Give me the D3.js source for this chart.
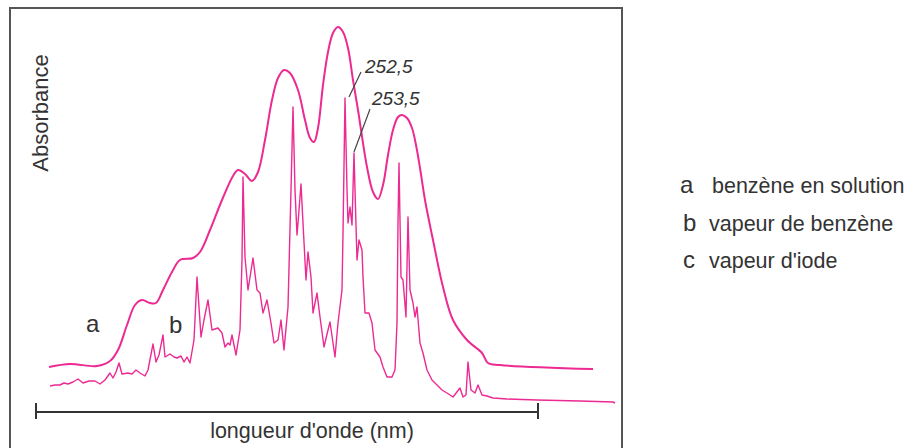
<!DOCTYPE html>
<html>
<head>
<meta charset="utf-8">
<script src="https://cdn.jsdelivr.net/npm/d3@7"></script>
<style>
  body { margin: 0; background: #fff; }
  svg { display: block; font-family: "Liberation Sans", Arial, sans-serif; }
</style>
</head>
<body>
<script>
// spectre a : benzène en solution  [x (u.a.), absorbance (u.a.)]
const solution = [
  [6.5, 21.5], [17, 23], [30.5, 22], [37, 24.5], [41, 30], [45.5, 42.5], [49.5, 52.5],
  [53, 55], [57, 53.5], [60, 53.5], [63.5, 60], [68, 69], [72, 75], [78.5, 76], [82, 79],
  [87, 90], [93, 105], [98.5, 117], [101, 120], [104.5, 118], [108, 114.5], [111, 119],
  [114.5, 135], [118, 155], [121, 166], [124, 170], [127, 168.5], [131, 160], [134.5, 145],
  [137, 136], [139, 134], [141, 141], [143.5, 162.5], [146, 179], [148.5, 188.5], [151, 191.5],
  [153.5, 189], [156, 181], [158.5, 165], [161, 150], [165.5, 121.5], [168.5, 109], [171, 105.5],
  [173.5, 112.5], [176, 127.5], [178.5, 140], [181, 146.5], [183, 147.5], [185.5, 146],
  [188, 141], [190, 132.5], [192, 121], [194.5, 105], [198.5, 85], [203.5, 61.5], [208.5, 45],
  [215.5, 35], [223, 28.5], [226, 23.5], [232, 22.5], [278.5, 20.5]
]

// spectre b : vapeur de benzène
const vapeur = [
  [7, 12], [9.5, 12.5], [12, 12.5], [14, 13.5], [16, 13], [18.5, 14], [21, 15.5], [23.5, 13.5],
  [26.5, 14.5], [29.5, 14.5], [32, 13], [34.5, 15], [37, 18.5], [38.5, 16], [40, 19], [41.5, 23.5],
  [43, 18], [46, 18.5], [48, 18], [50, 20], [52, 18.5], [54.5, 17], [56, 20], [58.5, 33], [60, 24],
  [61.5, 27.5], [63.5, 37.5], [64.5, 26.5], [67, 28], [69, 26.5], [70.5, 26], [72.5, 27], [74, 24],
  [75.5, 26.5], [77, 23.5], [79, 35], [80.5, 66.5], [82.5, 36.5], [84, 45], [86, 55], [88, 40],
  [91, 41], [93, 38.5], [94.5, 31.5], [96, 33.5], [97, 32.5], [98, 37.5], [100, 27.5], [102, 40],
  [103, 75], [103.5, 116.5], [104.5, 76.5], [106, 60], [108.5, 76], [110.5, 60], [112, 58.5],
  [113.5, 48.5], [115.5, 55], [117.5, 43.5], [119, 33.5], [121, 35], [122.5, 45], [124, 30],
  [126, 51.5], [127.5, 110], [128.5, 151.5], [129.5, 110], [130.5, 87.5], [131, 93.5], [132.5, 113],
  [133.5, 93.5], [135, 65], [136, 79], [137.5, 66.5], [138.5, 48.5], [140.5, 58.5], [142, 46.5],
  [144, 31.5], [146, 40], [147, 44], [149.5, 26.5], [151, 43.5], [153, 60], [153.5, 88.5],
  [154.5, 156], [155.5, 110], [156, 93.5], [157, 101.5], [158, 92.5], [159, 128.5], [159.5, 110],
  [160.5, 75], [161.5, 85], [163, 80], [163.5, 66.5], [164.5, 48.5], [166.5, 48.5], [168, 43.5],
  [169.5, 30], [172, 26.5], [173.5, 21.5], [175.5, 16.5], [178, 16.5], [179.5, 20], [180.5, 43.5],
  [181, 93.5], [181.5, 123.5], [182.5, 66.5], [183.5, 65], [185, 46.5], [186, 96.5], [187, 60],
  [188.5, 53.5], [189.5, 46.5], [190.5, 51.5], [192, 33.5], [193.5, 28.5], [195.5, 20], [198, 15],
  [200.5, 12.5], [203, 10], [205.5, 8.5], [208.5, 6.5], [212, 11], [213.5, 6.5], [215, 7.5],
  [216, 24], [217.5, 10], [219.5, 8.5], [221, 12.5], [223, 7.5], [225.5, 7], [228.5, 6],
  [235.5, 5.5], [250.5, 5], [272, 4.5], [288.5, 4], [289.5, 3.5]
]

// annotations des deux raies
const raies = ["252,5", "253,5"]
const raiePic = [[156.5, 156.5], [159, 129]]
const raieBout = [[162.5, 169], [167, 150.5]]
const raieTexte = [[164.5, 168.5], [168, 152.5]]

// lettres des courbes
const lettres = ["a", "b"]
const lettresPos = [[25, 39], [66.5, 38.5]]

// légende
const legendeLettres = ["a", "b", "c"]
const legendeTextes = ["benzène en solution", "vapeur de benzène", "vapeur d'iode"]

const W = 912, H = 448
const pink = "#ec2a92"
const ink = "#333"

const svg = d3.select("body").append("svg")
  .attr("width", W)
  .attr("height", H)

// cadre
svg.append("rect")
  .attr("x", 10).attr("y", 8)
  .attr("width", 612).attr("height", 460)
  .attr("fill", "none")
  .attr("stroke", "#555")
  .attr("stroke-width", 2)

const x = d3.scaleLinear().domain([0, 251]).range([36, 538])
const y = d3.scaleLinear().domain([0, 200]).range([410, 10])

// axe des longueurs d'onde (sans graduations)
svg.append("g")
  .attr("transform", "translate(0,412)")
  .call(d3.axisBottom(x).tickValues([]).tickSizeOuter(-8))
  .call(g => g.select(".domain")
    .attr("stroke", ink)
    .attr("stroke-width", 2)
    .attr("d", `M${x(0)},-9V7M${x(0)},0H${x(251)}M${x(251)},-9V7`))

svg.append("text")
  .attr("x", 312).attr("y", 438)
  .attr("text-anchor", "middle")
  .attr("font-size", 21.5)
  .attr("fill", ink)
  .text("longueur d'onde (nm)")

svg.append("text")
  .attr("transform", "translate(48,113) rotate(-90)")
  .attr("text-anchor", "middle")
  .attr("font-size", 22)
  .attr("fill", ink)
  .text("Absorbance")

// courbes
const lineA = d3.line()
  .x(d => x(d[0]))
  .y(d => y(d[1]))
  .curve(d3.curveCatmullRom.alpha(0.5))

const lineB = d3.line()
  .x(d => x(d[0]))
  .y(d => y(d[1]))

svg.append("path")
  .datum(solution)
  .attr("d", lineA)
  .attr("fill", "none")
  .attr("stroke", pink)
  .attr("stroke-width", 2)

svg.append("path")
  .datum(vapeur)
  .attr("d", lineB)
  .attr("fill", "none")
  .attr("stroke", pink)
  .attr("stroke-width", 1.4)
  .attr("stroke-linejoin", "round")

// traits de repère + valeurs
raies.forEach((r, i) => {
  svg.append("line")
    .attr("x1", x(raiePic[i][0])).attr("y1", y(raiePic[i][1]))
    .attr("x2", x(raieBout[i][0])).attr("y2", y(raieBout[i][1]))
    .attr("stroke", "#444")
    .attr("stroke-width", 1.2)
  svg.append("text")
    .attr("x", x(raieTexte[i][0])).attr("y", y(raieTexte[i][1]))
    .attr("font-size", 19)
    .attr("font-style", "italic")
    .attr("fill", ink)
    .text(r)
})

svg.selectAll(".lettre")
  .data(lettres)
  .join("text")
  .attr("class", "lettre")
  .attr("x", (d, i) => x(lettresPos[i][0]))
  .attr("y", (d, i) => y(lettresPos[i][1]))
  .attr("font-size", 24)
  .attr("fill", ink)
  .text(d => d)

// légende
const leg = svg.append("g").attr("transform", "translate(680,193)")
legendeTextes.forEach((t, i) => {
  leg.append("text")
    .attr("x", i == 0 ? 0 : 3).attr("y", [0, 38, 75][i])
    .attr("font-size", 24)
    .attr("fill", ink)
    .text(legendeLettres[i])
  leg.append("text")
    .attr("x", i == 0 ? 32 : 29).attr("y", [0, 38, 75][i])
    .attr("font-size", 21.5)
    .attr("fill", ink)
    .text(t)
})
</script>
</body>
</html>
